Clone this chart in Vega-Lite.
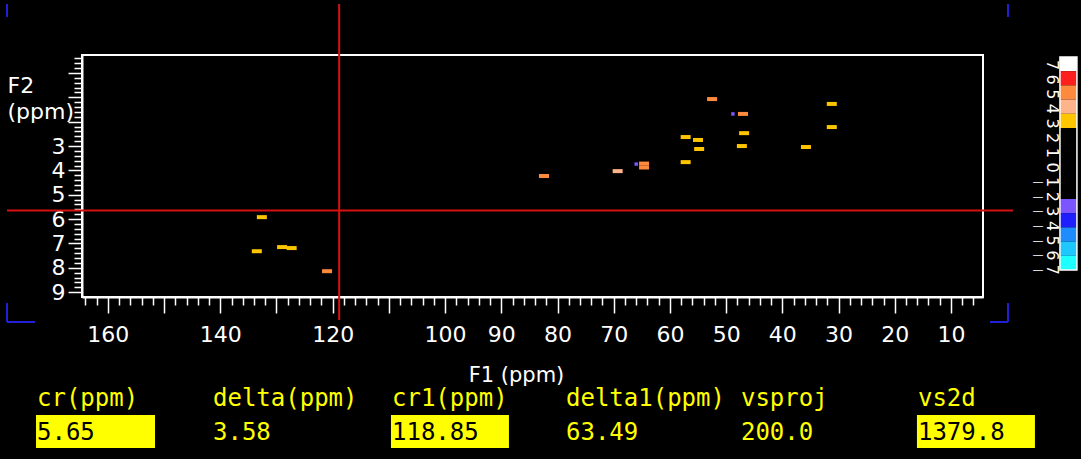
{
  "$schema": "https://vega.github.io/schema/vega-lite/v6.json",
  "width": 901,
  "height": 242,
  "autosize": {"type": "none"},
  "padding": {"left": 82, "top": 55, "right": 98, "bottom": 162},
  "background": "black",
  "config": {
    "view": {"stroke": "white", "strokeWidth": 2, "fill": "black"},
    "axis": {"grid": false}
  },
  "datasets": {
    "peaks": [
      {"f1": 52.5, "f2": 1.07, "level": 5},
      {"f1": 47.0, "f2": 1.68, "level": 5},
      {"f1": 48.8, "f2": 1.68, "level": -3},
      {"f1": 31.2, "f2": 1.27, "level": 3},
      {"f1": 31.2, "f2": 2.22, "level": 3},
      {"f1": 57.2, "f2": 2.63, "level": 3},
      {"f1": 55.0, "f2": 2.75, "level": 3},
      {"f1": 54.8, "f2": 3.12, "level": 3},
      {"f1": 46.8, "f2": 2.47, "level": 3},
      {"f1": 47.2, "f2": 3.0, "level": 3},
      {"f1": 35.8, "f2": 3.04, "level": 3},
      {"f1": 57.2, "f2": 3.66, "level": 3},
      {"f1": 64.6, "f2": 3.72, "level": 5},
      {"f1": 64.6, "f2": 3.88, "level": 5},
      {"f1": 66.0, "f2": 3.74, "level": -3},
      {"f1": 69.3, "f2": 4.03, "level": 4},
      {"f1": 82.4, "f2": 4.23, "level": 5},
      {"f1": 132.6, "f2": 5.92, "level": 3},
      {"f1": 133.5, "f2": 7.32, "level": 3},
      {"f1": 129.0, "f2": 7.15, "level": 3},
      {"f1": 127.3, "f2": 7.19, "level": 3},
      {"f1": 121.0, "f2": 8.14, "level": 5}
    ],
    "bar": [
      {"level": 7, "top": -0.658, "bot": -0.075, "lab": -0.329, "digit": "7", "neg": false},
      {"level": 6, "top": -0.075, "bot": 0.508, "lab": 0.272, "digit": "6", "neg": false},
      {"level": 5, "top": 0.508, "bot": 1.092, "lab": 0.874, "digit": "5", "neg": false},
      {"level": 4, "top": 1.092, "bot": 1.675, "lab": 1.475, "digit": "4", "neg": false},
      {"level": 3, "top": 1.675, "bot": 2.258, "lab": 2.076, "digit": "3", "neg": false},
      {"level": 2, "top": 2.258, "bot": 2.842, "lab": 2.678, "digit": "2", "neg": false},
      {"level": 1, "top": 2.842, "bot": 3.425, "lab": 3.279, "digit": "1", "neg": false},
      {"level": 0, "top": 3.425, "bot": 4.008, "lab": 3.88, "digit": "0", "neg": false},
      {"level": -1, "top": 4.008, "bot": 4.591, "lab": 4.481, "digit": "1", "neg": true},
      {"level": -2, "top": 4.591, "bot": 5.175, "lab": 5.083, "digit": "2", "neg": true},
      {"level": -3, "top": 5.175, "bot": 5.758, "lab": 5.684, "digit": "3", "neg": true},
      {"level": -4, "top": 5.758, "bot": 6.341, "lab": 6.285, "digit": "4", "neg": true},
      {"level": -5, "top": 6.341, "bot": 6.924, "lab": 6.887, "digit": "5", "neg": true},
      {"level": -6, "top": 6.924, "bot": 7.508, "lab": 7.488, "digit": "6", "neg": true},
      {"level": -7, "top": 7.508, "bot": 8.091, "lab": 8.089, "digit": "7", "neg": true}
    ],
    "panel": [
      {"name": "cr(ppm)", "value": "5.65", "f1": 172.61, "boxed": true, "b1": 172.78, "b2": 151.61},
      {"name": "delta(ppm)", "value": "3.58", "f1": 141.29, "boxed": false},
      {"name": "cr1(ppm)", "value": "118.85", "f1": 109.45, "boxed": true, "b1": 109.63, "b2": 88.64},
      {"name": "delta1(ppm)", "value": "63.49", "f1": 78.49, "boxed": false},
      {"name": "vsproj", "value": "200.0", "f1": 47.36, "boxed": false},
      {"name": "vs2d", "value": "1379.8", "f1": 15.87, "boxed": true, "b1": 16.05, "b2": -4.94}
    ],
    "segs": [
      {"kind": "cursor", "x1": 118.85, "x2": 118.85, "y1": -2.835, "y2": 10.14},
      {"kind": "cursor", "x1": 177.94, "x2": -1.03, "y1": 5.65, "y2": 5.65},
      {"kind": "marker", "x1": 177.94, "x2": 177.94, "y1": -2.835, "y2": -2.3},
      {"kind": "marker", "x1": -0.14, "x2": -0.14, "y1": -2.835, "y2": -2.3},
      {"kind": "marker", "x1": 177.94, "x2": 177.94, "y1": 9.447, "y2": 10.227},
      {"kind": "marker", "x1": 177.94, "x2": 172.96, "y1": 10.227, "y2": 10.227},
      {"kind": "marker", "x1": -0.14, "x2": -0.14, "y1": 9.447, "y2": 10.227},
      {"kind": "marker", "x1": 3.06, "x2": -0.14, "y1": 10.227, "y2": 10.227}
    ]
  },
  "layer": [
    {
      "data": {"name": "peaks"},
      "transform": [{"filter": "datum.level > 0"}],
      "mark": {"type": "tick", "orient": "horizontal", "size": 10, "thickness": 4, "clip": false, "opacity": 1},
      "encoding": {
        "x": {
          "field": "f1", "type": "quantitative",
          "scale": {"domain": [4.3, 164.6], "reverse": true, "nice": false, "zero": false},
          "axis": {
            "values": [6,8,10,12,14,16,18,20,22,24,26,28,30,32,34,36,38,40,42,44,46,48,50,52,54,56,58,60,62,64,66,68,70,72,74,76,78,80,82,84,86,88,90,92,94,96,98,100,102,104,106,108,110,112,114,116,118,120,122,124,126,128,130,132,134,136,138,140,142,144,146,148,150,152,154,156,158,160,162,164],
            "tickCount": 500,
            "tickSize": {"condition": {"test": "datum.value % 10 === 0", "value": 16}, "value": 8},
            "tickColor": "white", "tickWidth": 1.5,
            "domainColor": "white", "domainWidth": 2,
            "labelExpr": "(datum.value % 10 === 0 && datum.value != 150 && datum.value != 130 && datum.value != 110) ? format(datum.value, 'd') : ''",
            "labelFont": "DejaVu Sans", "labelFontSize": 22, "labelColor": "white",
            "labelPadding": 11, "labelFlush": false, "labelOverlap": false,
            "title": "F1 (ppm)", "titleFont": "DejaVu Sans", "titleFontSize": 21, "titleFontWeight": "normal",
            "titleColor": "white", "titleX": 434, "titleY": 67, "titleAlign": "center", "titleBaseline": "top"
          }
        },
        "y": {
          "field": "f2", "type": "quantitative",
          "scale": {"domain": [-0.74, 9.2], "reverse": true, "nice": false, "zero": false},
          "axis": {
            "values": [-0.6,-0.4,-0.2,0,0.2,0.4,0.6,0.8,1,1.2,1.4,1.6,1.8,2,2.2,2.4,2.6,2.8,3,3.2,3.4,3.6,3.8,4,4.2,4.4,4.6,4.8,5,5.2,5.4,5.6,5.8,6,6.2,6.4,6.6,6.8,7,7.2,7.4,7.6,7.8,8,8.2,8.4,8.6,8.8,9],
            "tickCount": 500,
            "tickSize": {"condition": {"test": "abs(datum.value - round(datum.value)) < 0.01", "value": 14}, "value": 8},
            "tickColor": "white", "tickWidth": 1.5,
            "domainColor": "white", "domainWidth": 2,
            "labelExpr": "(datum.value > 2.5 && abs(datum.value - round(datum.value)) < 0.01) ? ('' + round(datum.value)) : ''",
            "labelFont": "DejaVu Sans", "labelFontSize": 22, "labelColor": "white",
            "labelPadding": 3, "labelFlush": false, "labelOverlap": false,
            "title": ["F2", "(ppm)"], "titleFont": "DejaVu Sans", "titleFontSize": 22, "titleFontWeight": "normal",
            "titleColor": "white", "titleAngle": 0, "titleX": -75, "titleY": 20, "titleAlign": "left",
            "titleBaseline": "top", "titleLineHeight": 26
          }
        },
        "color": {
          "field": "level", "type": "ordinal", "legend": null,
          "scale": {"domain": [7,6,5,4,3,2,1,0,-1,-2,-3,-4,-5,-6,-7],
                    "range": ["#ffffff","#ff1e1e","#ff8a3d","#ffb38a","#ffc600","#000000","#000000","#000000","#000000","#000000","#7b55ff","#1e1eff","#1e8cff","#1ec8ff","#1effff"]}
        }
      }
    },
    {
      "data": {"name": "peaks"},
      "transform": [{"filter": "datum.level < 0"}],
      "mark": {"type": "square", "size": 12, "opacity": 1, "clip": false},
      "encoding": {
        "x": {"field": "f1", "type": "quantitative"},
        "y": {"field": "f2", "type": "quantitative"},
        "color": {
          "field": "level", "type": "ordinal", "legend": null,
          "scale": {"domain": [7,6,5,4,3,2,1,0,-1,-2,-3,-4,-5,-6,-7],
                    "range": ["#ffffff","#ff1e1e","#ff8a3d","#ffb38a","#ffc600","#000000","#000000","#000000","#000000","#000000","#7b55ff","#1e1eff","#1e8cff","#1ec8ff","#1effff"]}
        }
      }
    },
    {
      "data": {"name": "bar"},
      "mark": {"type": "rect", "clip": false},
      "encoding": {
        "x": {"datum": -9.39, "type": "quantitative"},
        "x2": {"datum": -12.41},
        "y": {"field": "top", "type": "quantitative"},
        "y2": {"field": "bot"},
        "color": {
          "field": "level", "type": "ordinal", "legend": null,
          "scale": {"domain": [7,6,5,4,3,2,1,0,-1,-2,-3,-4,-5,-6,-7],
                    "range": ["#ffffff","#ff1e1e","#ff8a3d","#ffb38a","#ffc600","#000000","#000000","#000000","#000000","#000000","#7b55ff","#1e1eff","#1e8cff","#1ec8ff","#1effff"]}
        }
      }
    },
    {
      "data": {"values": [{"top": -0.658, "bot": 8.091}]},
      "mark": {"type": "rect", "fill": null, "fillOpacity": 0, "stroke": "white", "strokeWidth": 1.5, "clip": false},
      "encoding": {
        "x": {"datum": -9.39, "type": "quantitative"},
        "x2": {"datum": -12.41},
        "y": {"field": "top", "type": "quantitative"},
        "y2": {"field": "bot"}
      }
    },
    {
      "data": {"name": "bar"},
      "mark": {"type": "text", "angle": 90, "font": "DejaVu Sans", "fontSize": 16, "color": "white", "align": "center", "baseline": "middle", "clip": false},
      "encoding": {
        "x": {"datum": -7.97, "type": "quantitative"},
        "y": {"field": "lab", "type": "quantitative"},
        "text": {"field": "digit"}
      }
    },
    {
      "data": {"name": "bar"},
      "transform": [{"filter": "datum.neg"}],
      "mark": {"type": "text", "font": "DejaVu Sans", "fontSize": 11, "color": "white", "align": "center", "baseline": "middle", "clip": false},
      "encoding": {
        "x": {"datum": -5.48, "type": "quantitative"},
        "y": {"field": "lab", "type": "quantitative"},
        "text": {"value": "—"}
      }
    },
    {
      "data": {"name": "panel"},
      "transform": [{"filter": "datum.boxed"}],
      "mark": {"type": "rect", "color": "#ffff00", "clip": false},
      "encoding": {
        "x": {"field": "b1", "type": "quantitative"},
        "x2": {"field": "b2"},
        "y": {"datum": 14.047, "type": "quantitative"},
        "y2": {"datum": 15.402}
      }
    },
    {
      "data": {"name": "panel"},
      "mark": {"type": "text", "font": "DejaVu Sans Mono", "fontSize": 24, "color": "#ffff00", "align": "left", "baseline": "alphabetic", "clip": false},
      "encoding": {
        "x": {"field": "f1", "type": "quantitative"},
        "y": {"datum": 13.677, "type": "quantitative"},
        "text": {"field": "name"}
      }
    },
    {
      "data": {"name": "panel"},
      "mark": {"type": "text", "font": "DejaVu Sans Mono", "fontSize": 24, "align": "left", "baseline": "alphabetic", "clip": false},
      "encoding": {
        "x": {"field": "f1", "type": "quantitative"},
        "y": {"datum": 15.073, "type": "quantitative"},
        "text": {"field": "value"},
        "color": {"condition": {"test": "datum.boxed", "value": "black"}, "value": "#ffff00"}
      }
    },
    {
      "data": {"name": "segs"},
      "transform": [{"filter": "datum.kind === 'cursor'"}],
      "mark": {"type": "rule", "color": "#d81010", "strokeWidth": 2, "clip": false},
      "encoding": {
        "x": {"field": "x1", "type": "quantitative"},
        "x2": {"field": "x2"},
        "y": {"field": "y1", "type": "quantitative"},
        "y2": {"field": "y2"}
      }
    },
    {
      "data": {"name": "segs"},
      "transform": [{"filter": "datum.kind === 'marker'"}],
      "mark": {"type": "rule", "color": "#2020d8", "strokeWidth": 2, "clip": false},
      "encoding": {
        "x": {"field": "x1", "type": "quantitative"},
        "x2": {"field": "x2"},
        "y": {"field": "y1", "type": "quantitative"},
        "y2": {"field": "y2"}
      }
    }
  ]
}
